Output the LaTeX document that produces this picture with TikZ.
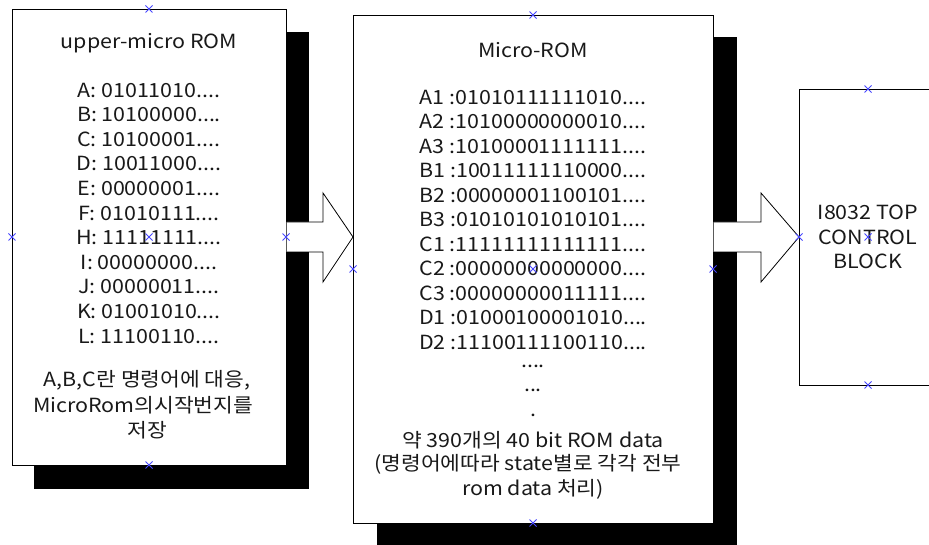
\documentclass[tikz,border=0pt]{standalone}
\usepackage{fontspec}
\setmainfont{Noto Sans CJK KR}[FakeStretch=1.1]
\newcommand\myfourdots{....}
\begin{document}
\begin{tikzpicture}[x=1pt,y=-1pt,
  box/.style={draw=black, line width=0.8pt, fill=white, inner sep=0pt, outer sep=0pt},
  shadowfill/.style={fill=black},
  txt/.style={inner sep=0pt, font=\fontsize{19.5}{24.5}\selectfont, text=black!90},
  handle/.style={draw={rgb,255:red,70;green,70;blue,255}, line width=0.9pt},
  blockarrow/.style={draw=black, line width=0.8pt, fill=white, line join=miter}]
\useasboundingbox (0,0) rectangle (929,545);
\clip (0,0) rectangle (929,545);
% shadows
\fill[shadowfill] (34,32) rectangle (309,489);
\fill[shadowfill] (377,37) rectangle (737,545);
% boxes
\node[box, minimum width=274pt, minimum height=456pt] (upper) at (149,237) {};
\node[box, minimum width=360pt, minimum height=508pt] (micro) at (533,269) {};
\node[box, minimum width=138pt, minimum height=296pt] (ctrl) at (868,237) {};
% block arrows
\filldraw[blockarrow] (upper.east) ++(0.5,-15) -- ++(36.5,0) -- ++(0,-29)
  -- (micro.west |- upper.east) -- ++(-30,45) -- ++(0,-30) -- ++(-36.5,0);
\filldraw[blockarrow] (micro.east |- ctrl.west) ++(0.5,-15) -- ++(47.5,0) -- ++(0,-29)
  -- (ctrl.west) -- ++(-38,45) -- ++(0,-30) -- ++(-47.5,0);
% left box text
\node[txt] (ut) at (149,43) {upper-micro ROM};
\foreach \t [count=\i from 0] in {A: 01011010,B: 10100000,C: 10100001,D: 10011000,E: 00000001,F: 01010111,H: 11111111,I: 00000000,J: 00000011,K: 01001010,L: 11100110}
  \node[txt] (u\i) at (149,{90+24.6*\i}) {\t\myfourdots};
\node[txt] (uk1) at (147,380) {A,B,C란 명령어에 대응,};
\node[txt] (uk2) at (143,405) {MicroRom의시작번지를};
\node[txt] (uk3) at (147,430) {저장};
% middle box text
\node[txt] (mt) at (533,50) {Micro-ROM};
\foreach \t [count=\i from 0] in {A1 :01010111111010,A2 :10100000000010,A3 :10100001111111,B1 :10011111110000,B2 :00000001100101,B3 :01010101010101,C1 :11111111111111,C2 :00000000000000,C3 :00000000011111,D1 :01000100001010,D2 :11100111100110}
  \node[txt] (m\i) at (533,{97+24.5*\i}) {\t\myfourdots};
\node[txt] (md1) at (533,366) {\myfourdots};
\node[txt] (md2) at (533,390) {...};
\node[txt] (md3) at (533,415) {.};
\node[txt] (mk1) at (533,440) {약 390개의 40 bit ROM data};
\node[txt] (mk2) at (528,464) {(명령어에따라 state별로 각각 전부};
\node[txt] (mk3) at (533,489) {rom data 처리)};
% right box text
\node[txt] (c1) at (868,212) {I8032 TOP};
\node[txt] (c2) at (868,237) {CONTROL};
\node[txt] (c3) at (868,261) {BLOCK};
% selection handles
\foreach \p in {upper.north,upper.south,upper.west,upper.east,upper.center,
                micro.north,micro.south,micro.west,micro.east,micro.center,
                ctrl.north,ctrl.south,ctrl.west,ctrl.center}
  \draw[handle] (\p) +(-3.5,-3.5) -- +(3.5,3.5) +(-3.5,3.5) -- +(3.5,-3.5);
\end{tikzpicture}
\end{document}
